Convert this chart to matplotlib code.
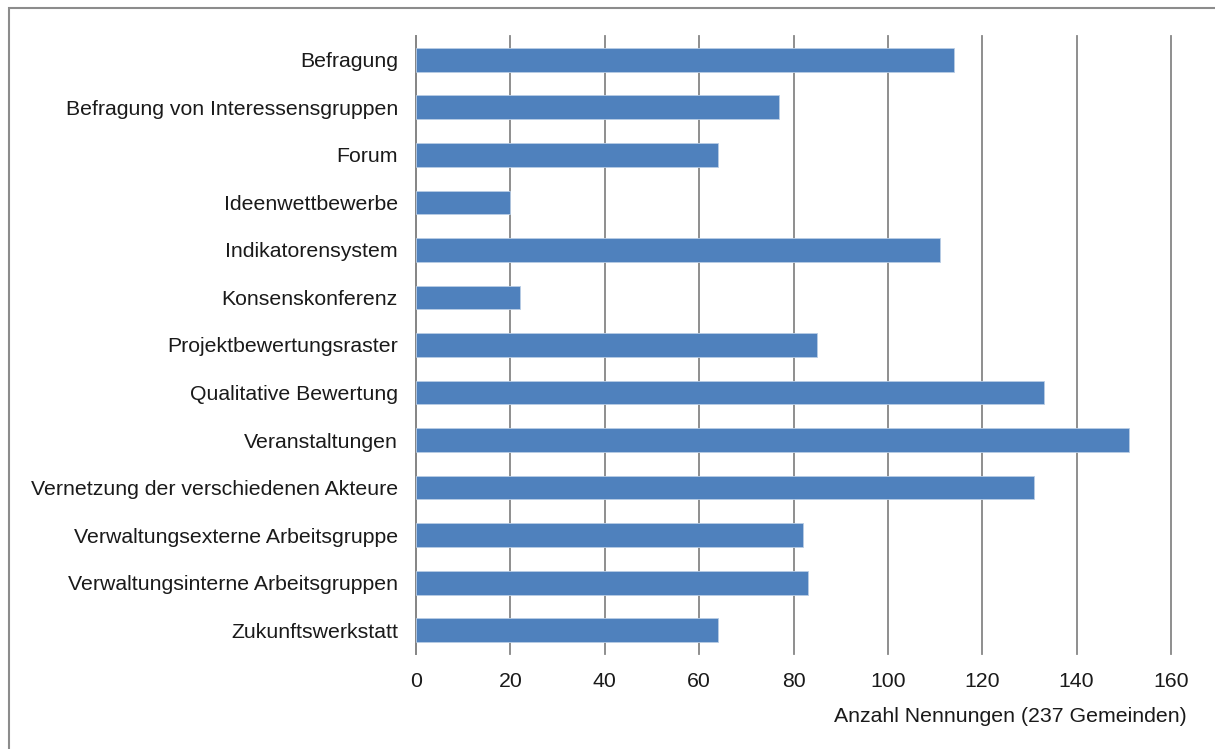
import matplotlib
matplotlib.use("Agg")
import matplotlib.pyplot as plt
from matplotlib.patches import Rectangle

plt.rcParams["font.family"] = ["Liberation Sans", "DejaVu Sans"]

categories = [
    "Befragung",
    "Befragung von Interessensgruppen",
    "Forum",
    "Ideenwettbewerbe",
    "Indikatorensystem",
    "Konsenskonferenz",
    "Projektbewertungsraster",
    "Qualitative Bewertung",
    "Veranstaltungen",
    "Vernetzung der verschiedenen Akteure",
    "Verwaltungsexterne Arbeitsgruppe",
    "Verwaltungsinterne Arbeitsgruppen",
    "Zukunftswerkstatt",
]
nennungen = [114, 77, 64, 20, 111, 22, 85, 133, 151, 131, 82, 83, 64]
xticks = [0, 20, 40, 60, 80, 100, 120, 140, 160]

W, H = 1215, 749
fs = 15.3
fig = plt.figure(figsize=(W / 100, H / 100), dpi=100)

# chart border (only top/left edges fall inside the image)
fig.patches.append(Rectangle((9 / W, -0.2), 1.2, 1.2 - 8 / H, transform=fig.transFigure,
                             fill=False, edgecolor="#8c8c8c", linewidth=1.5))

left, right = 416 / W, 1171 / W
top, bottom = 1 - 36 / H, 1 - 654 / H
ax = fig.add_axes([left, bottom, right - left, top - bottom])

y = list(range(len(categories)))
ax.barh(y, nennungen, height=0.5, color="#4f81bd", edgecolor="#b9cde5", linewidth=0.6, zorder=3)

ax.set_ylim(len(categories) - 0.5, -0.5)
ax.set_xlim(0, 160)
ax.set_xticks(xticks)
ax.set_yticks(y)
ax.set_yticklabels(categories)
ax.tick_params(axis="y", length=0, pad=13, labelsize=fs, labelcolor="#1a1a1a")
ax.tick_params(axis="x", length=0, pad=13, labelsize=fs, labelcolor="#1a1a1a")
ax.grid(axis="x", color="#868686", linewidth=1.3, zorder=0)
for gl in ax.get_xgridlines():
    gl.set_clip_on(False)
for s in ["top", "right", "bottom"]:
    ax.spines[s].set_visible(False)
ax.spines["left"].set_color("#868686")
ax.spines["left"].set_linewidth(1.3)

fig.text(1187 / W, 1 - 717 / H, "Anzahl Nennungen (237 Gemeinden)", ha="right", va="center",
         fontsize=fs, color="#1a1a1a")

fig.savefig("out.png", dpi=100)
